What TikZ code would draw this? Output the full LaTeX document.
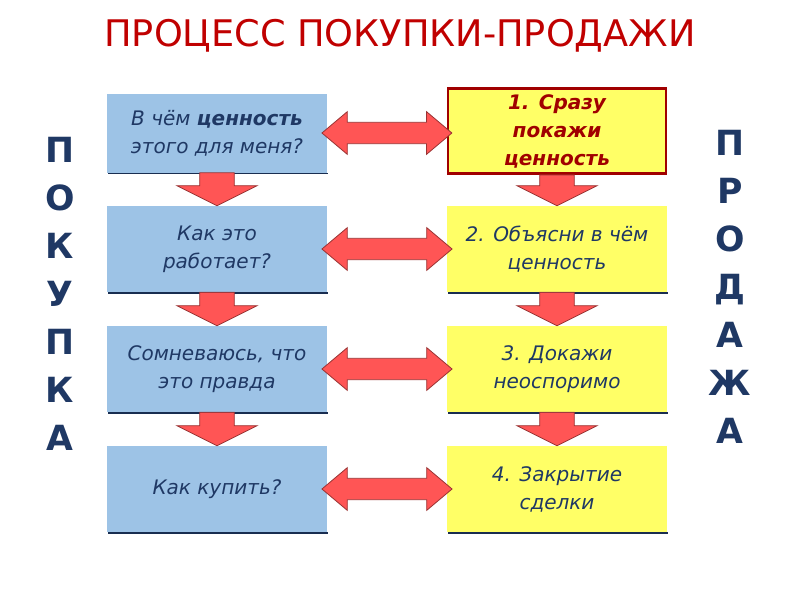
\documentclass[tikz,border=0pt]{standalone}
\usepackage{fontspec}
\setmainfont{DejaVu Sans}
\usetikzlibrary{calc}
\definecolor{navy}{HTML}{1F3864}
\definecolor{ttl}{HTML}{C00000}
\definecolor{bluef}{HTML}{9DC3E6}
\definecolor{yelf}{HTML}{FFFF66}
\definecolor{arr}{HTML}{FF5555}
\definecolor{dred}{HTML}{A00000}
\tikzset{
 bbox/.style={fill=bluef, minimum width=165pt, minimum height=64pt, align=center, text=navy, font=\itshape\fontsize{15}{21}\selectfont, inner sep=0pt},
 ybox/.style={fill=yelf, minimum width=165pt, minimum height=64pt, align=center, text=navy, font=\itshape\fontsize{15}{21}\selectfont, inner sep=0pt},
 arrsty/.style={fill=arr, draw=arr!60!black, line width=0.6pt, line join=miter},
 big/.style={text=navy, align=center},
}
\newcommand{\dblarr}[2]{%
 \path ($(#1.east)+(-4pt,0)$) coordinate (pa);
 \path let \p1=(pa), \p2=(#2.west) in coordinate (pb) at (\x2+4pt,\y1);
 \draw[arrsty] (pa) -- ++(19pt,16pt) -- ++(0,-8pt) -- ($(pb)+(-19pt,8pt)$) -- ++(0,8pt) -- (pb) -- ++(-19pt,-16pt) -- ++(0,8pt) -- ($(pa)+(19pt,-8pt)$) -- ++(0,-8pt) -- cycle;}
\newcommand{\downarr}[2]{%
 \path (#1.south) coordinate (pa) (#2.north) coordinate (pb);
 \draw[arrsty] ($(pa)+(-13pt,0)$) -- ($(pb)+(-13pt,15pt)$) -- ($(pb)+(-30pt,15pt)$) -- ($(pb)+(0,0)$) -- ($(pb)+(30pt,15pt)$) -- ($(pb)+(13pt,15pt)$) -- ($(pa)+(13pt,0)$) -- cycle;}
\begin{document}
\begin{tikzpicture}[x=0.75pt,y=-0.75pt]
\useasboundingbox (0,0) rectangle (800,600);
\node[text=ttl, font=\fontsize{27.5}{32}\selectfont] (title) at (400,36) {ПРОЦЕСС ПОКУПКИ-ПРОДАЖИ};
\foreach \n/\y/\h in {l1/133/79,l2/249/86,l3/369/86,l4/489/86}{
  \draw[navy!80!black, line width=1.2pt] (108,\y+\h/2+1) -- (328,\y+\h/2+1);}
\node[bbox, minimum height=79pt*0.75] (l1) at (217,133) {В чём \textbf{ценность}\\этого для меня?};
\node[bbox, minimum height=86pt*0.75] (l2) at (217,249) {Как это\\работает?};
\node[bbox, minimum height=86pt*0.75] (l3) at (217,369) {Сомневаюсь, что\\это правда};
\node[bbox, minimum height=86pt*0.75] (l4) at (217,489) {Как купить?};
\foreach \y in {249,369,489}{\draw[navy!80!black, line width=1.2pt] (448,\y+44) -- (668,\y+44);}
\node[ybox, draw=dred, line width=2.2pt, minimum width=218pt*0.75, minimum height=85pt*0.75, text=dred, font=\bfseries\itshape\fontsize{15}{21}\selectfont] (r1) at (557,131) {1. Сразу\\покажи\\ценность};
\node[ybox, minimum height=86pt*0.75] (r2) at (557,249) {2. Объясни в чём\\ценность};
\node[ybox, minimum height=86pt*0.75] (r3) at (557,369) {3. Докажи\\неоспоримо};
\node[ybox, minimum height=86pt*0.75] (r4) at (557,489) {4. Закрытие\\сделки};
\dblarr{l1}{r1}\dblarr{l2}{r2}\dblarr{l3}{r3}\dblarr{l4}{r4}
\downarr{l1}{l2}\downarr{l2}{l3}\downarr{l3}{l4}
\downarr{r1}{r2}\downarr{r2}{r3}\downarr{r3}{r4}
\node[big, font=\bfseries\fontsize{26}{36}\selectfont] (buy) at (60,294) {П\\О\\К\\У\\П\\К\\А};
\node[big, font=\bfseries\fontsize{26}{36}\selectfont] (sell) at (730,287) {П\\Р\\О\\Д\\А\\Ж\\А};
\end{tikzpicture}
\end{document}
